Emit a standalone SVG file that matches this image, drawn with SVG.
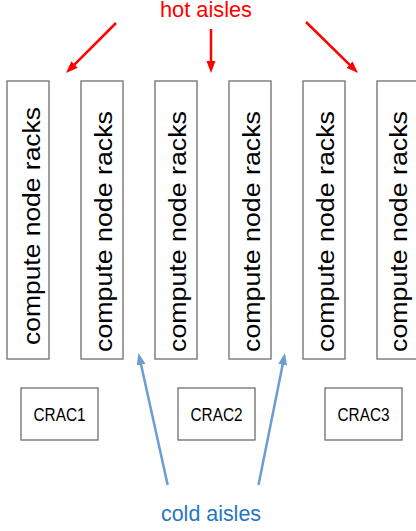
<svg xmlns="http://www.w3.org/2000/svg" width="416" height="531" viewBox="0 0 416 531">
<defs>
<style>
.rack{fill:#fff;stroke:#6e6e6e;stroke-width:1.3}
.rt{font-family:"Liberation Sans",Arial,sans-serif;font-size:23.5px;fill:#000;text-anchor:middle}
.crac{fill:#fff;stroke:#6e6e6e;stroke-width:1.3}
.ct{font-family:"Liberation Sans",Arial,sans-serif;font-size:18px;fill:#000;text-anchor:middle}
.hot{stroke:#ff0000;stroke-width:2.5;fill:none}
.cold{stroke:#6a9dd2;stroke-width:2.5;fill:none}
.lbl{font-family:"Liberation Sans",Arial,sans-serif;font-size:22px;text-anchor:middle}
</style>
<marker id="ah" markerUnits="userSpaceOnUse" markerWidth="12" markerHeight="10" refX="4" refY="4.5" orient="auto">
<path d="M0,0 L12,4.5 L0,9 z" fill="#ff0000"/>
</marker>
<marker id="ac" markerUnits="userSpaceOnUse" markerWidth="12" markerHeight="10" refX="4" refY="4.5" orient="auto">
<path d="M0,0 L12,4.5 L0,9 z" fill="#6a9dd2"/>
</marker>
</defs>
<rect width="416" height="531" fill="#fff"/>
<text class="lbl" x="206" y="17" fill="#ff0000" textLength="92" lengthAdjust="spacingAndGlyphs">hot aisles</text>
<text class="lbl" x="211" y="521" fill="#2677c2" textLength="100" lengthAdjust="spacingAndGlyphs">cold aisles</text>
<g id="rack1"><rect class="rack" x="7" y="81" width="42" height="278"/><text class="rt" transform="translate(40,226) rotate(-90)" textLength="238" lengthAdjust="spacingAndGlyphs">compute node racks</text></g>
<g id="rack2"><rect class="rack" x="81" y="81" width="42" height="278"/><text class="rt" transform="translate(111.5,231.5) rotate(-90)" textLength="241" lengthAdjust="spacingAndGlyphs">compute node racks</text></g>
<g id="rack3"><rect class="rack" x="155" y="81" width="42" height="278"/><text class="rt" transform="translate(185.5,231.5) rotate(-90)" textLength="241" lengthAdjust="spacingAndGlyphs">compute node racks</text></g>
<g id="rack4"><rect class="rack" x="229" y="81" width="42" height="278"/><text class="rt" transform="translate(260,231.5) rotate(-90)" textLength="241" lengthAdjust="spacingAndGlyphs">compute node racks</text></g>
<g id="rack5"><rect class="rack" x="303" y="81" width="42" height="278"/><text class="rt" transform="translate(333.5,231.5) rotate(-90)" textLength="241" lengthAdjust="spacingAndGlyphs">compute node racks</text></g>
<g id="rack6"><rect class="rack" x="377" y="81" width="42" height="278"/><text class="rt" transform="translate(407,231.5) rotate(-90)" textLength="241" lengthAdjust="spacingAndGlyphs">compute node racks</text></g>
<g id="crac1"><rect class="crac" x="21" y="388" width="77" height="52"/><text class="ct" x="59.5" y="421" textLength="52" lengthAdjust="spacingAndGlyphs">CRAC1</text></g>
<g id="crac2"><rect class="crac" x="178" y="388" width="77" height="52"/><text class="ct" x="216.5" y="421" textLength="52" lengthAdjust="spacingAndGlyphs">CRAC2</text></g>
<g id="crac3"><rect class="crac" x="325" y="388" width="77" height="52"/><text class="ct" x="363.5" y="421" textLength="52" lengthAdjust="spacingAndGlyphs">CRAC3</text></g>
<g id="connectors">
<line class="hot" x1="116" y1="23" x2="71.7" y2="67.3" marker-end="url(#ah)"/>
<line class="hot" x1="211" y1="29" x2="211" y2="65" marker-end="url(#ah)"/>
<line class="hot" x1="306" y1="22" x2="352.3" y2="67.4" marker-end="url(#ah)"/>
<line class="cold" x1="167.7" y1="485" x2="140.2" y2="360.8" marker-end="url(#ac)"/>
<line class="cold" x1="258.5" y1="485" x2="283.4" y2="360.9" marker-end="url(#ac)"/>
</g>
</svg>
